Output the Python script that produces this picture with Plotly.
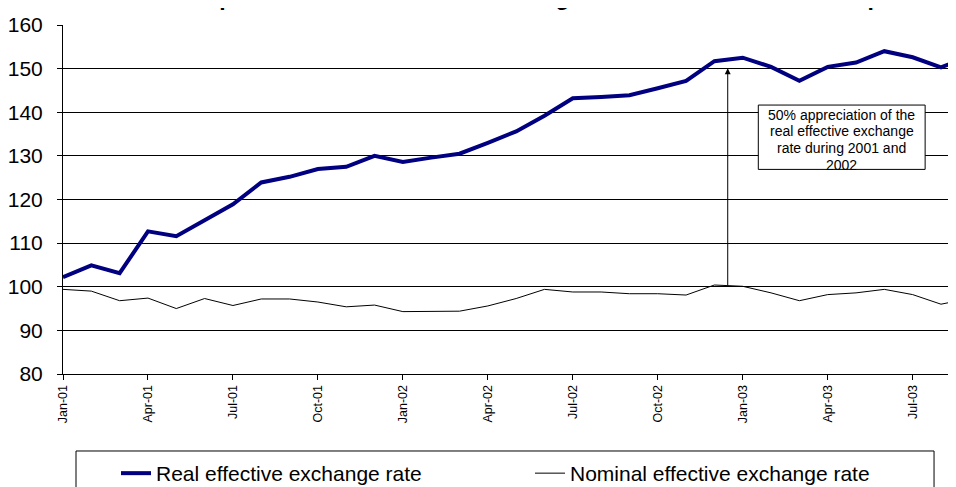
import plotly.graph_objects as go

months = ["Jan-01", "Feb-01", "Mar-01", "Apr-01", "May-01", "Jun-01", "Jul-01", "Aug-01",
          "Sep-01", "Oct-01", "Nov-01", "Dec-01", "Jan-02", "Feb-02", "Mar-02", "Apr-02",
          "May-02", "Jun-02", "Jul-02", "Aug-02", "Sep-02", "Oct-02", "Nov-02", "Dec-02",
          "Jan-03", "Feb-03", "Mar-03", "Apr-03", "May-03", "Jun-03", "Jul-03", "Aug-03",
          "Sep-03"]
tick_labels = ["Jan-01", "Apr-01", "Jul-01", "Oct-01", "Jan-02", "Apr-02", "Jul-02",
               "Oct-02", "Jan-03", "Apr-03", "Jul-03"]

real_eer = [102.2, 104.9, 103.1, 112.7, 111.6, 115.3, 118.9, 123.9, 125.2, 127.0, 127.5,
            130.0, 128.6, 129.6, 130.5, 133.0, 135.6, 139.2, 143.2, 143.5, 143.9, 145.5,
            147.2, 151.7, 152.5, 150.4, 147.2, 150.4, 151.4, 154.0, 152.6, 150.3, 152.8]
nominal_eer = [99.4, 99.0, 96.8, 97.4, 95.0, 97.3, 95.7, 97.2, 97.2, 96.5, 95.4, 95.8,
               94.3, 94.3, 94.4, 95.6, 97.3, 99.4, 98.8, 98.8, 98.4, 98.4, 98.1, 100.4,
               100.1, 98.6, 96.8, 98.2, 98.6, 99.4, 98.2, 96.0, 97.3]

note_lines = ["50% appreciation of the", "real effective exchange", "rate during 2001 and", "2002"]
title_text = "Value developments of the effective exchange rates from Jan 2001 to Sep 2003"

FONT = "Arial, Liberation Sans, sans-serif"
W, H = 948, 479  # page body has an 8px margin
x_idx = list(range(len(months)))
tickvals = [months.index(t) for t in tick_labels]

fig = go.Figure()
fig.add_trace(go.Scatter(x=x_idx, y=real_eer, mode="lines", name="Real effective exchange rate",
                         line=dict(color="#000080", width=4)))
fig.add_trace(go.Scatter(x=x_idx, y=nominal_eer, mode="lines", name="Nominal effective exchange rate",
                         line=dict(color="#000000", width=1)))

# arrow between Dec-02 and Jan-03
arrow_x = 23.47
fig.add_annotation(x=arrow_x, y=150.1, ax=arrow_x, ay=100, xref="x", yref="y", axref="x", ayref="y",
                   text="", showarrow=True, arrowhead=2, arrowsize=1.2, arrowwidth=1, arrowcolor="#000000")

# note box
fig.add_shape(type="rect", xref="x", yref="y", x0=24.55, x1=30.44, y0=126.9, y1=141.65,
              line=dict(color="#000000", width=1), fillcolor="#ffffff", layer="above")
line_y = [139.4, 135.6, 131.8, 128.0]
for t, yy in zip(note_lines, line_y):
    fig.add_annotation(x=27.5, y=yy, xref="x", yref="y", text=t, showarrow=False,
                       font=dict(family=FONT, size=14, color="#000000"), xanchor="center", yanchor="middle")

# legend frame
fig.add_shape(type="rect", xref="paper", yref="paper", x0=0.01456, x1=0.9754, y0=-0.2206, y1=-0.40,
              line=dict(color="#000000", width=1), fillcolor="rgba(0,0,0,0)")

# clipped title
fig.add_annotation(x=0.5, y=1, xref="paper", yref="paper", text="<b>" + title_text + "</b>",
                   showarrow=False, yanchor="bottom", yshift=13,
                   font=dict(family=FONT, size=23, color="#000000"))

fig.update_layout(
    width=W, height=H,
    margin=dict(l=55, r=0, t=17, b=113),
    paper_bgcolor="#ffffff", plot_bgcolor="#ffffff",
    font=dict(family=FONT, color="#000000"),
    showlegend=True,
    legend=dict(orientation="h", xref="container", yref="container", x=108 / W, y=1 - 445 / H,
                xanchor="left", yanchor="top", entrywidth=369, entrywidthmode="pixels",
                font=dict(family=FONT, size=21, color="#000000"), bgcolor="rgba(0,0,0,0)",
                borderwidth=0, traceorder="normal"),
    xaxis=dict(range=[0, 31.53], tickmode="array", tickvals=tickvals, ticktext=tick_labels,
               tickangle=-90, ticks="outside", ticklen=5, tickcolor="#000000",
               showline=True, linecolor="#000000", linewidth=1, showgrid=False, zeroline=False,
               tickfont=dict(family=FONT, size=12.5, color="#000000")),
    yaxis=dict(range=[80, 160], dtick=10, tick0=80, ticks="outside", ticklen=5, tickcolor="#000000",
               showline=True, linecolor="#000000", linewidth=1, showgrid=True, gridcolor="#000000",
               gridwidth=1, zeroline=False, ticklabelstandoff=10,
               tickfont=dict(family=FONT, size=21, color="#000000")),
)

fig.write_html("out.html")
